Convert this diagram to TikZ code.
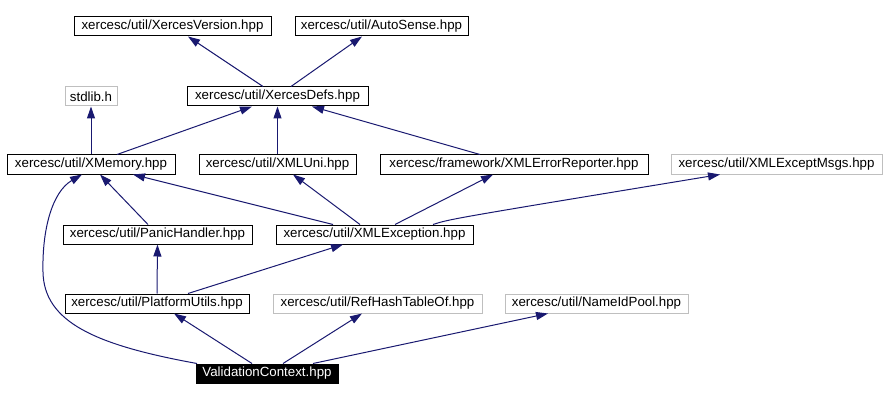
\documentclass[tikz,border=0pt]{standalone}
\usepackage{fontspec}
\setmainfont{Liberation Sans}
\usetikzlibrary{arrows.meta}
\definecolor{edgecol}{HTML}{191970}
\definecolor{graybox}{HTML}{BFBFBF}
\begin{document}
\begin{tikzpicture}[x=1pt,y=-1pt,
  box/.style={draw=black,line width=1pt,inner sep=0pt,minimum height=19pt,font=\fontsize{13.3}{15}\selectfont,fill=white},
  gbox/.style={box,draw=graybox},
  cur/.style={box,fill=black,text=white},
  edge/.style={draw=edgecol,line width=1pt,-{Triangle[length=12pt,width=8pt]}}]
\useasboundingbox (0,0) rectangle (886,401);
% row 1
\node[box,minimum width=197pt] (xver) at (172.5,26.5) {xercesc/util/XercesVersion.hpp};
\node[box,minimum width=173pt] (auto) at (381.5,26.5) {xercesc/util/AutoSense.hpp};
% row 2
\node[gbox,minimum width=52pt] (stdlib) at (91,96.5) {stdlib.h};
\node[box,minimum width=181pt] (xdefs) at (277.5,96.5) {xercesc/util/XercesDefs.hpp};
% row 3
\node[box,minimum width=168pt] (xmem) at (91,164.5) {xercesc/util/XMemory.hpp};
\node[box,minimum width=157pt] (xuni) at (277.5,164.5) {xercesc/util/XMLUni.hpp};
\node[box,minimum width=268pt] (xerr) at (514,164.5) {xercesc/framework/XMLErrorReporter.hpp};
\node[gbox,minimum width=211pt] (xmsgs) at (776.5,164.5) {xercesc/util/XMLExceptMsgs.hpp};
% row 4
\node[box,minimum width=189pt] (panic) at (157.5,234.5) {xercesc/util/PanicHandler.hpp};
\node[box,minimum width=197pt] (xexc) at (374.5,234.5) {xercesc/util/XMLException.hpp};
% row 5
\node[box,minimum width=184pt] (plat) at (157,303.5) {xercesc/util/PlatformUtils.hpp};
\node[gbox,minimum width=209pt] (refh) at (377.5,303.5) {xercesc/util/RefHashTableOf.hpp};
\node[gbox,minimum width=183pt] (nid) at (596.5,303.5) {xercesc/util/NameIdPool.hpp};
% row 6
\node[cur,minimum width=142pt] (vc) at (267,373.5) {ValidationContext.hpp};
% edges
\draw[edge] ([xshift=-14.5pt]xdefs.north) -- ([xshift=15.5pt]xver.south);
\draw[edge] ([xshift=13.5pt]xdefs.north) -- ([xshift=-19.5pt]auto.south);
\draw[edge] (xmem.north) -- (stdlib.south);
\draw[edge] ([xshift=26pt]xmem.north) -- ([xshift=-25.5pt]xdefs.south);
\draw[edge] (xuni.north) -- (xdefs.south);
\draw[edge] ([xshift=-34pt]xerr.north) -- ([xshift=34.5pt]xdefs.south);
\draw[edge] ([xshift=-9.5pt]panic.north) -- ([xshift=9pt]xmem.south);
\draw[edge] ([xshift=-41.5pt]xexc.north) -- ([xshift=42pt]xmem.south);
\draw[edge] ([xshift=-14.5pt]xexc.north) -- ([xshift=15.5pt]xuni.south);
\draw[edge] ([xshift=20.5pt]xexc.north) -- ([xshift=-21pt]xerr.south);
\draw[edge] ([xshift=58.5pt]xexc.north) .. controls (450,219) .. ([xshift=-56.5pt]xmsgs.south);
\draw[edge] (plat.north) -- (panic.south);
\draw[edge] ([xshift=31pt]plat.north) -- ([xshift=-31.5pt]xexc.south);
\draw[edge] ([xshift=-70pt]vc.north) .. controls (95,345) and (44,322) .. (43,272)
  .. controls (42,230) and (52,192) .. ([xshift=-9pt]xmem.south);
\draw[edge] ([xshift=-15pt]vc.north) -- ([xshift=17pt]plat.south);
\draw[edge] ([xshift=16pt]vc.north) -- ([xshift=-15.5pt]refh.south);
\draw[edge] ([xshift=46pt]vc.north) -- ([xshift=-48.5pt]nid.south);
\end{tikzpicture}
\end{document}
